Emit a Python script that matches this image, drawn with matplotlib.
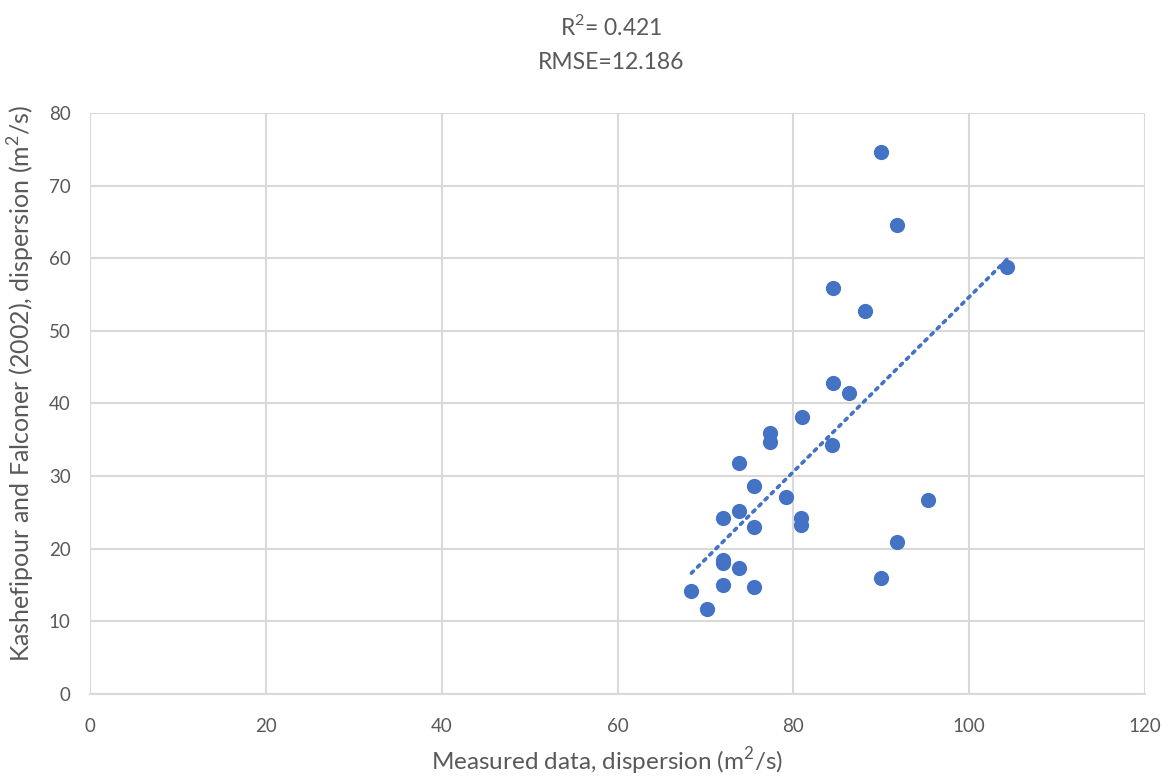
import numpy as np
import matplotlib.pyplot as plt

plt.rcParams['font.family'] = ['Lato', 'DejaVu Sans']
plt.rcParams['mathtext.fontset'] = 'custom'
plt.rcParams['mathtext.rm'] = 'Lato'

# measured vs. predicted dispersion (m2/s)
measured = [90.0, 91.8, 104.3, 84.5, 88.2, 84.5, 86.3, 81.0, 77.4, 77.4,
            84.4, 73.8, 75.5, 79.2, 95.3, 73.8, 72.0, 80.9, 80.9, 75.5,
            91.8, 72.0, 72.0, 73.8, 72.0, 75.5, 90.0, 68.4, 70.2]
predicted = [74.6, 64.6, 58.8, 55.9, 52.7, 42.8, 41.4, 38.1, 35.9, 34.7,
             34.3, 31.8, 28.6, 27.1, 26.7, 25.2, 24.2, 24.2, 23.3, 23.0,
             20.9, 18.5, 18.0, 17.3, 15.0, 14.7, 16.0, 14.2, 11.7]
xticks = [0, 20, 40, 60, 80, 100, 120]
yticks = [0, 10, 20, 30, 40, 50, 60, 70, 80]

blue = '#4472C4'
grey = '#595959'

fig = plt.figure(figsize=(11.7, 7.78), dpi=100)
ax = fig.add_axes([0.077, 0.108, 0.9016, 0.7468])

ax.scatter(measured, predicted, s=120, color=blue, zorder=3, linewidths=0)

# linear trendline
m, c = np.polyfit(measured, predicted, 1)
xs = np.array([min(measured), max(measured)])
ax.plot(xs, m * xs + c, color=blue, lw=2.6, linestyle=(0, (0.8, 1.6)),
        dash_capstyle='round', zorder=2)

ax.set_xlim(0, 120)
ax.set_ylim(0, 80)
ax.set_xticks(xticks)
ax.set_yticks(yticks)
ax.grid(True, color='#d9d9d9', lw=1.5)
ax.set_axisbelow(True)
for s in ['top', 'right', 'left']:
    ax.spines[s].set_visible(False)
ax.spines['bottom'].set_color('#d9d9d9')
ax.spines['bottom'].set_linewidth(1.5)
ax.tick_params(length=0, labelsize=13.5, labelcolor=grey)
ax.tick_params(axis='x', pad=17)
ax.tick_params(axis='y', pad=14)

ax.set_xlabel('Measured data, dispersion (m$^2$/s)', fontsize=17.5, color=grey)
ax.set_ylabel('Kashefipour and Falconer (2002), dispersion (m$^2$/s)', fontsize=18,
              color=grey)
ax.xaxis.set_label_coords(0.49, -0.088)
ax.yaxis.set_label_coords(-0.05, 0.535)

fig.text(0.522, 0.966, 'R$^2$= 0.421', ha='center', va='center', fontsize=16.5, color=grey)
fig.text(0.522, 0.920, 'RMSE=12.186', ha='center', va='center', fontsize=16.5, color=grey)

fig.savefig('out.png', dpi=100)
